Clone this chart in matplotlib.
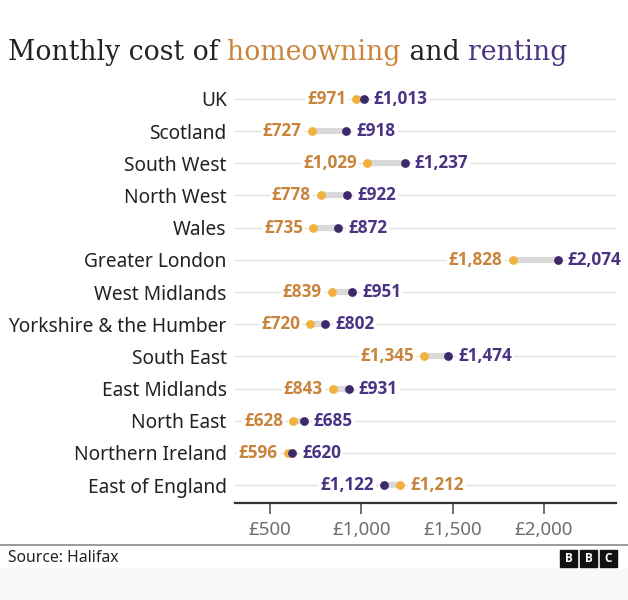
import numpy as np
import matplotlib.pyplot as plt
from matplotlib.patches import Rectangle

regions = ['UK', 'Scotland', 'South West', 'North West', 'Wales', 'Greater London',
           'West Midlands', 'Yorkshire & the Humber', 'South East', 'East Midlands',
           'North East', 'Northern Ireland', 'East of England']
homeowning = [971, 727, 1029, 778, 735, 1828, 839, 720, 1345, 843, 628, 596, 1212]
renting = [1013, 918, 1237, 922, 872, 2074, 951, 802, 1474, 931, 685, 620, 1122]
ticks = [500, 1000, 1500, 2000]
tick_labels = ['£500', '£1,000', '£1,500', '£2,000']

own_dot = '#f2b03c'
own_txt = '#c8843a'
rent_dot = '#3d2a6b'
rent_txt = '#4a3382'
sans = ['Noto Sans', 'DejaVu Sans']
bold_sans = ['Open Sans', 'Lato', 'DejaVu Sans']

W, H = 628, 600
fig = plt.figure(figsize=(W / 100, H / 100), dpi=100)
fig.add_artist(Rectangle((0, 0), 1, 1 - 569 / H, color='#f8f8f8', transform=fig.transFigure,
                         zorder=0))
ax = fig.add_axes([235 / W, 1 - 503 / H, (616 - 235) / W, (503 - 85) / H])
ax.patch.set_alpha(0)

n = len(regions)
y = np.arange(n)
ax.set_xlim(308, 2394)
ax.set_ylim(n - 1 + 18 / 32.17, -14 / 32.17)

for i in range(n):
    ax.axhline(i, color='#e3e3e3', lw=1, zorder=1)
    lo, hi = sorted([homeowning[i], renting[i]])
    ax.plot([lo, hi], [i, i], color='#dadada', lw=4.5, solid_capstyle='butt', zorder=2)
    ax.scatter(homeowning[i], i, s=40, color=own_dot, zorder=3, linewidths=0)
    ax.scatter(renting[i], i, s=40, color=rent_dot, zorder=4, linewidths=0)
    if homeowning[i] <= renting[i]:
        left_v, left_c, right_v, right_c = homeowning[i], own_txt, renting[i], rent_txt
    else:
        left_v, left_c, right_v, right_c = renting[i], rent_txt, homeowning[i], own_txt
    box = dict(facecolor='white', edgecolor='none', pad=1.5)
    ax.annotate('£{:,}'.format(left_v), (left_v, i), xytext=(-10, 0), textcoords='offset pixels',
                ha='right', va='center', color=left_c, fontsize=12.3, fontweight='bold',
                family=bold_sans, bbox=box, zorder=5)
    ax.annotate('£{:,}'.format(right_v), (right_v, i), xytext=(10, 0), textcoords='offset pixels',
                ha='left', va='center', color=right_c, fontsize=12.3, fontweight='bold',
                family=bold_sans, bbox=box, zorder=5)

ax.set_yticks(y)
ax.set_yticklabels(regions, fontsize=13.8, family=sans, color='#222222')
ax.tick_params(axis='y', length=0, pad=6)
ax.set_xticks(ticks)
ax.set_xticklabels(tick_labels, fontsize=13.5, family=sans, color='#6e6e6e')
ax.tick_params(axis='x', length=8, width=1.2, color='#555555', pad=5)
for s in ['top', 'right', 'left']:
    ax.spines[s].set_visible(False)
ax.spines['bottom'].set_color('#333333')
ax.spines['bottom'].set_linewidth(1.6)

# title with coloured words
title_y = 1 - 52 / H
parts = [('Monthly cost of ', '#222222'), ('homeowning', own_txt), (' and ', '#222222'),
         ('renting', rent_txt)]
fig.canvas.draw()
renderer = fig.canvas.get_renderer()
x0 = 8 / W
for txt, col in parts:
    t = fig.text(x0, title_y, txt, fontsize=19.2, family=['DejaVu Serif'], color=col,
                 va='center', ha='left')
    bb = t.get_window_extent(renderer=renderer)
    x0 += bb.width / W

# footer
fig.add_artist(plt.Line2D([0, 1], [1 - 545 / H, 1 - 545 / H], color='#8a8a8a', lw=1.2))
fig.text(8 / W, 1 - 558 / H, 'Source: Halifax', fontsize=11.3, family=sans, color='#222222',
         va='center', ha='left')
for k, letter in enumerate('BBC'):
    bx = 560 + k * 20
    fig.add_artist(Rectangle((bx / W, 1 - 567 / H), 17 / W, 17 / H, color='#111111',
                             transform=fig.transFigure))
    fig.text((bx + 8.5) / W, 1 - 558.5 / H, letter, fontsize=8.5, fontweight='bold',
             color='white', ha='center', va='center', family=bold_sans)

fig.savefig('out.png', dpi=100)
